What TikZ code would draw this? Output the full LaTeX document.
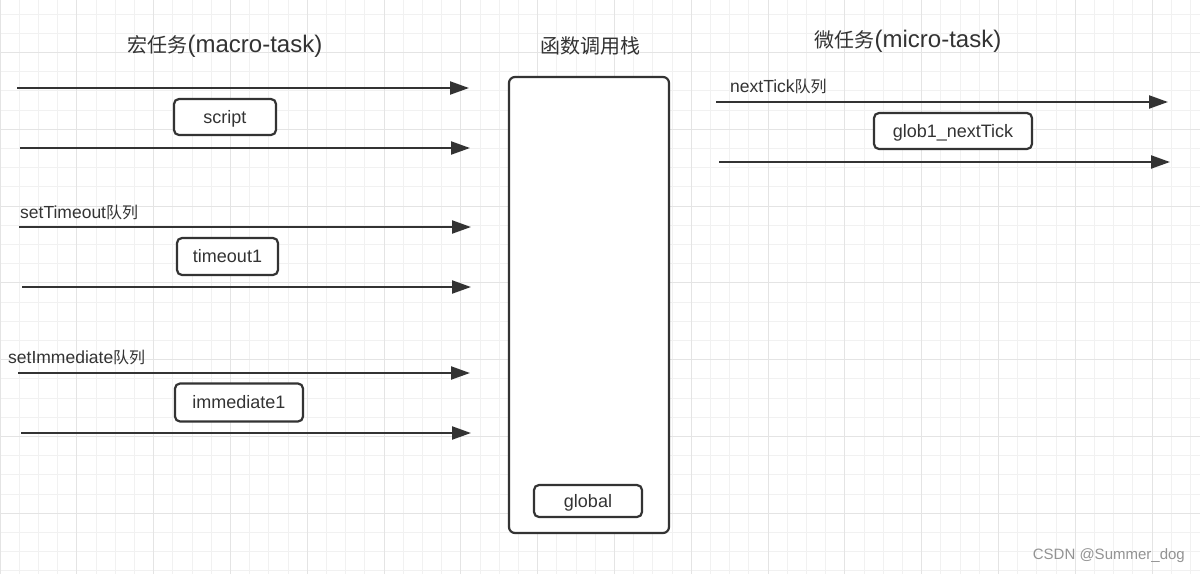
\documentclass[tikz,border=0pt]{standalone}
\usepackage{fontspec}
\setmainfont{Liberation Sans}
\newfontfamily\cjk{Noto Sans CJK SC}
\usetikzlibrary{arrows.meta}
\definecolor{ink}{HTML}{333333}
\definecolor{gridminor}{HTML}{F1F1F1}
\definecolor{gridmajor}{HTML}{E4E4E4}
\newcommand{\zh}[2]{{\cjk\fontsize{#1}{#1}\selectfont #2}}
\tikzset{
  minorline/.style={draw=gridminor, line width=1pt},
  majorline/.style={draw=gridmajor, line width=1pt},
  conn/.style={draw=ink, line width=2.2pt, -{Triangle[length=19pt,width=13pt]}},
  qbox/.style={draw=ink, line width=2.2pt, fill=white, rounded corners=5pt, inner sep=0pt, text=ink, text height=12.9pt, text depth=0pt, font=\fontsize{18}{20}\selectfont},
  stackbox/.style={draw=ink, line width=2.2pt, fill=white, rounded corners=6pt, inner sep=0pt},
  title/.style={text=ink, inner sep=0pt, font=\fontsize{24}{28}\selectfont},
  qlabel/.style={text=ink, inner sep=0pt, anchor=west, font=\fontsize{17.5}{20}\selectfont},
  wmark/.style={text=gray!85, inner sep=0pt, anchor=east, font=\fontsize{15}{18}\selectfont}
}
\begin{document}
\begin{tikzpicture}[x=1pt,y=-1pt]
\useasboundingbox (0,0) rectangle (1200,574);
\fill[white] (0,0) rectangle (1200,574);
% grid
\foreach \i in {0,...,62} \draw[minorline] (\i*19.2,0) -- (\i*19.2,574);
\foreach \i in {0,...,29} \draw[minorline] (0,14.1+\i*19.2) -- (1200,14.1+\i*19.2);
\foreach \i in {0,...,15} \draw[majorline] (\i*76.8,0) -- (\i*76.8,574);
\foreach \i in {0,...,6} \draw[majorline] (0,52.5+\i*76.8) -- (1200,52.5+\i*76.8);

% titles
\node[title] (tmacro) at (225,46) {\zh{20}{宏任务}(macro-task)};
\node[title] (tstack) at (590,46) {\zh{20}{函数调用栈}};
\node[title] (tmicro) at (908,41.5) {\zh{20}{微任务}(micro-task)};

% call stack
\node[stackbox, minimum width=160pt, minimum height=456pt] (stack) at (589,305) {};
\node[qbox, minimum width=108pt, minimum height=32pt] (global) at (588,501) {global};

% macro-task queues
\coordinate (a1s) at (17,88);  \coordinate (a1e) at (469,88);
\coordinate (a2s) at (20,148); \coordinate (a2e) at (470,148);
\coordinate (a3s) at (19,227); \coordinate (a3e) at (471,227);
\coordinate (a4s) at (22,287); \coordinate (a4e) at (471,287);
\coordinate (a5s) at (18,373); \coordinate (a5e) at (470,373);
\coordinate (a6s) at (21,433); \coordinate (a6e) at (471,433);
\foreach \k in {1,...,6} \draw[conn] (a\k s) -- (a\k e);

\node[qbox, minimum width=102pt, minimum height=36pt] (script) at (225,117) {script};
\node[qbox, minimum width=101pt, minimum height=37pt] (timeout) at (227.5,256.5) {timeout1};
\node[qbox, minimum width=128pt, minimum height=38pt] (immediate) at (239,402.5) {immediate1};

\node[qlabel] (lto) at (20,212) {setTimeout\zh{16}{队列}};
\node[qlabel] (lim) at (8,357.5) {setImmediate\zh{16}{队列}};

% micro-task queue
\coordinate (b1s) at (716,102); \coordinate (b1e) at (1168,102);
\coordinate (b2s) at (719,162); \coordinate (b2e) at (1170,162);
\draw[conn] (b1s) -- (b1e);
\draw[conn] (b2s) -- (b2e);
\node[qbox, minimum width=158pt, minimum height=36pt] (tick) at (953,131) {glob1\_nextTick};
\node[qlabel] (lnt) at (730,86.5) {nextTick\zh{16}{队列}};

% watermark
\node[wmark] (wm) at (1185,556) {CSDN @Summer\_dog};
\end{tikzpicture}
\end{document}
